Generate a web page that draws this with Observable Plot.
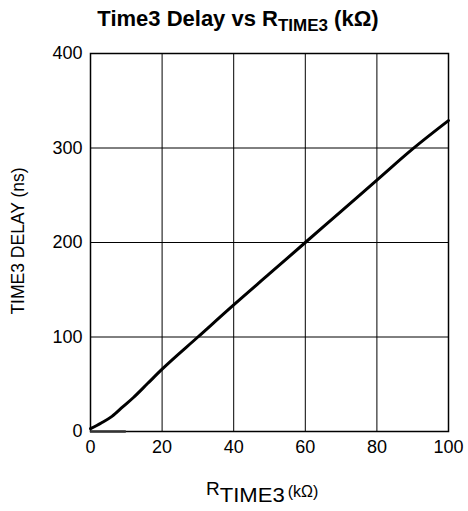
<!DOCTYPE html>
<html><head><meta charset="utf-8">
<script src="https://cdn.jsdelivr.net/npm/d3@7"></script>
<script src="https://cdn.jsdelivr.net/npm/@observablehq/plot@0.6"></script>
<style>
body{margin:0;background:#fff;font-family:"Liberation Sans",Arial,sans-serif;}
#title{height:40px;width:468px;text-align:center;font-weight:bold;font-size:22px;line-height:24px;padding-left:8px;padding-top:7px;box-sizing:border-box;white-space:nowrap;}
#title .sub{font-size:17px;position:relative;top:5px;}
#chart svg{display:block;}
</style></head>
<body>
<div id="title">Time3 Delay vs R<span class="sub">TIME3</span> (kΩ)</div>
<div id="chart"></div>
<script>
const rKohm = [0, 3, 6, 9, 12, 16, 20, 30, 40, 50, 60, 70, 80, 90, 100];
const delayNs = [3, 9, 16, 26, 36, 51, 66, 100, 134, 167, 200, 233, 266, 299, 329];
const xTicks = [0, 20, 40, 60, 80, 100];
const yTicks = [0, 100, 200, 300, 400];
const baseSegment = [0, 10];
const data = rKohm.map((r, i) => ({r, d: delayNs[i]}));

const plot = Plot.plot({
  width: 468, height: 471,
  marginTop: 13, marginBottom: 80, marginLeft: 90, marginRight: 20,
  style: {fontFamily: '"Liberation Sans", Arial, sans-serif', fontSize: "18px", color: "#000", background: "#fff"},
  x: {domain: [0, 100], ticks: xTicks, label: null},
  y: {domain: [0, 400], ticks: yTicks, label: null},
  marks: [
    Plot.gridX(xTicks, {stroke: "#000", strokeOpacity: 1, strokeWidth: 1}),
    Plot.gridY(yTicks, {stroke: "#000", strokeOpacity: 1, strokeWidth: 1}),
    Plot.axisX(xTicks, {tickSize: 0, tickPadding: 9, fontSize: 18}),
    Plot.axisY(yTicks, {tickSize: 0, tickPadding: 8, fontSize: 18}),
    Plot.frame({stroke: "#000", strokeWidth: 1.5}),
    Plot.ruleY([0], {x1: baseSegment[0], x2: baseSegment[1], stroke: "#333", strokeWidth: 2.5}),
    Plot.line(data, {x: "r", y: "d", stroke: "#000", strokeWidth: 3, curve: "monotone-x"})
  ]
});
document.getElementById("chart").appendChild(plot);

const svg = d3.select(plot);
const xl = svg.append("text").attr("x", 206).attr("y", 455).attr("text-anchor", "start").attr("fill", "#000");
xl.append("tspan").style("font-size", "19px").text("R");
xl.append("tspan").style("font-size", "20px").attr("dy", "7").attr("textLength", 65).attr("lengthAdjust", "spacingAndGlyphs").text("TIME3");
xl.append("tspan").style("font-size", "16px").attr("dy", "-5").attr("dx", "3").text("(kΩ)");
svg.append("text").attr("transform", "translate(24,201) rotate(-90)").attr("text-anchor", "middle")
  .style("font-size", "17.5px").attr("fill", "#000").text("TIME3 DELAY (ns)");
</script>
</body></html>
